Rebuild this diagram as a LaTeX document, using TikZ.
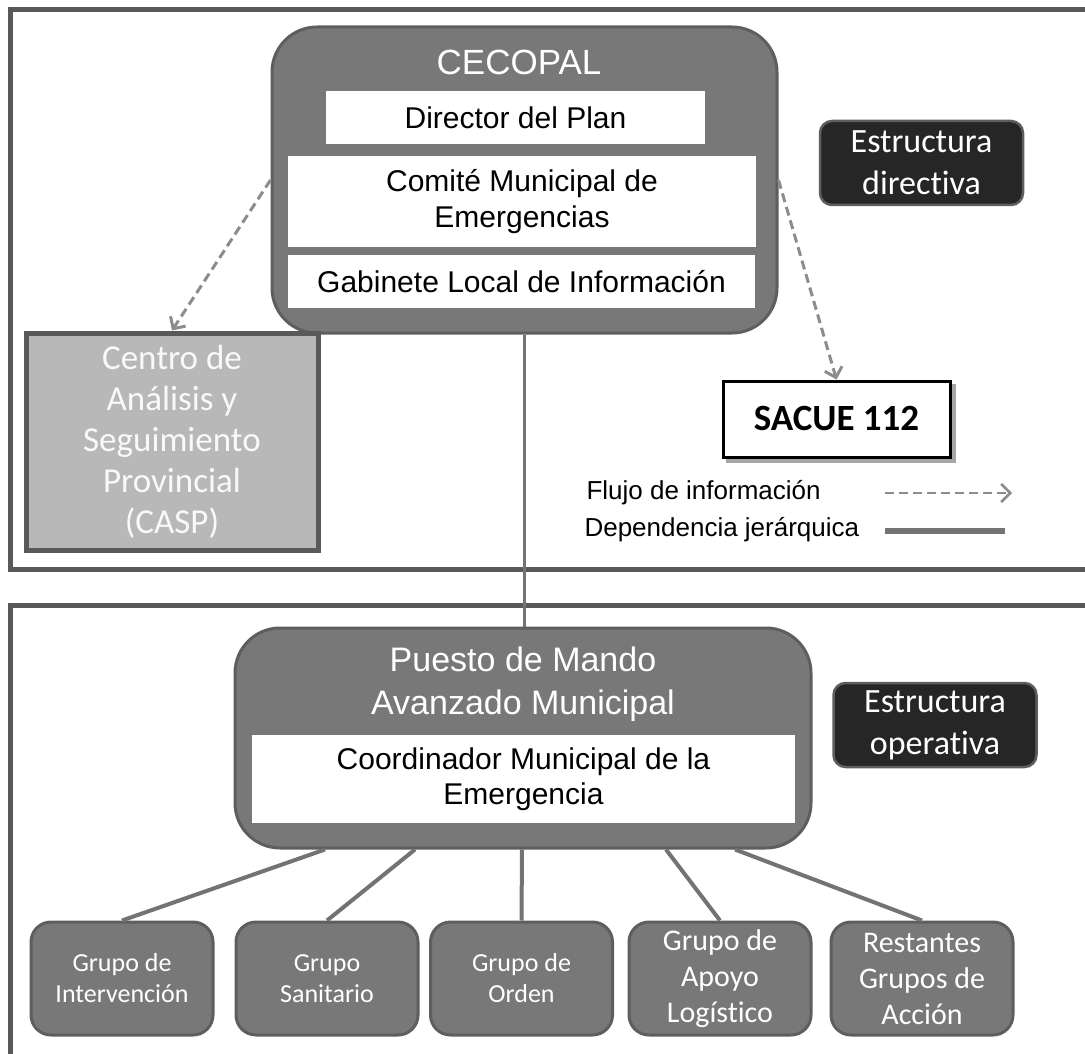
\documentclass[tikz,border=0pt]{standalone}
\usepackage{fontspec}
\setmainfont{Liberation Sans}
\newfontfamily\calib[Ligatures=NoCommon]{Carlito}
\usetikzlibrary{calc,positioning,arrows.meta,shadows}

\definecolor{framegray}{HTML}{595959}
\definecolor{boxgray}{HTML}{787878}
\definecolor{edgegray}{HTML}{5E5E5E}
\definecolor{caspgray}{HTML}{B8B8B8}
\definecolor{darkbox}{HTML}{262626}
\definecolor{linkgray}{HTML}{737373}
\definecolor{flowgray}{HTML}{8C8C8C}

\begin{document}
\begin{tikzpicture}[x=1pt, y=-1pt
        , frame/.style={ draw=framegray, line width=5pt }
        , bigbox/.style={ draw=edgegray, fill=boxgray, line width=3pt, rounded corners=45pt, inner sep=0pt }
        , whitebox/.style={ fill=white, inner sep=0pt, align=center, font=\fontsize{30}{36}\selectfont }
        , tag/.style={ draw=edgegray, fill=darkbox, line width=2.5pt, rounded corners=12pt, text=white, align=center, inner sep=0pt
                     , font=\calib\fontsize{34}{42}\selectfont, minimum width=203pt, minimum height=84pt }
        , group/.style={ draw=edgegray, fill=boxgray, line width=3pt, rounded corners=20pt, text=white, align=center
                       , minimum width=182pt, minimum height=113pt, inner sep=0pt }
        , link/.style={ draw=linkgray, line width=4pt }
        , flow/.style={ draw=flowgray, line width=3pt, dash pattern=on 9pt off 5pt, -{Straight Barb[length=9pt,width=18pt]} }
        ]

        \useasboundingbox (0,0) rectangle (1085,1054);
        \clip (0,0) rectangle (1085,1054);

        % Both structures, open on the right and below.
        \draw[frame] (10,10) rectangle (1100,569);
        \draw[frame] (10,605) rectangle (1100,1080);

        % Directive structure.
        \node[bigbox, minimum width=505pt, minimum height=306pt] (cecopal) at (524.5,180) {};
        \node[text=white, font=\fontsize{35}{40}\selectfont] (cecopaltitle) at (519,62) {CECOPAL};
        \node[whitebox, minimum width=379pt, minimum height=53pt] (director) at (515.5,117.5) {Director del Plan};
        \node[whitebox, minimum width=468pt, minimum height=91pt] (comite) at (522,201.5) {Comit\'e Municipal de\\Emergencias};
        \node[whitebox, minimum width=467pt, minimum height=53pt] (gabinete) at (521.5,281.5) {Gabinete Local de Informaci\'on};

        \node[draw=framegray, fill=caspgray, line width=5pt, minimum width=292pt, minimum height=217pt, inner sep=0pt
            , text=white!95!gray, align=center, font=\calib\fontsize{35}{41}\selectfont] (casp) at (172,441.5)
            {Centro de\\An\'alisis y\\Seguimiento\\Provincial\\(CASP)};

        \node[tag] (directiva) at (921.5,163) {Estructura\\directiva};

        \node[draw=black, fill=white, line width=3pt, minimum width=227pt, minimum height=76pt
            , font=\calib\bfseries\fontsize{37}{44}\selectfont
            , copy shadow={shadow xshift=4pt, shadow yshift=-4pt, draw=gray!70, fill=gray!70}] (sacue) at (836.5,419) {SACUE 112};

        \draw[flow] (cecopal.west) -- (casp.north);
        \draw[flow] (cecopal.east) -- (sacue.north);

        % Legend.
        \node[anchor=west, font=\fontsize{26}{30}\selectfont] (flujo) at (583,493) {Flujo de informaci\'on};
        \node[anchor=west, font=\fontsize{26}{30}\selectfont] (dependencia) at (581,530) {Dependencia jer\'arquica};
        \coordinate (flujoA) at (885,493);
        \coordinate (flujoB) at (1012,493);
        \coordinate (depA) at (885,531);
        \coordinate (depB) at (1005,531);
        \draw[flow, line width=2.5pt] (flujoA) -- (flujoB);
        \draw[link, line width=6pt] (depA) -- (depB);

        % Operative structure.
        \node[bigbox, minimum width=576pt, minimum height=220pt] (pma) at (523,738) {};
        \node[text=white, align=center, font=\fontsize{34}{43}\selectfont] (pmatitle) at (523,684) {Puesto de Mando\\Avanzado Municipal};
        \node[whitebox, minimum width=543pt, minimum height=88pt, font=\fontsize{30}{35}\selectfont] (coord) at (523.5,779)
            {Coordinador Municipal de la\\Emergencia};

        \node[tag] (operativa) at (935,725) {Estructura\\operativa};

        \draw[link, line width=3pt] (cecopal.south) -- (cecopal.south |- pma.north);

        \foreach \i/\gx/\gsize/\gskip/\gtext in {
                1/122/26/31/{Grupo de\\Intervenci\'on},
                2/327/26/31/{Grupo\\Sanitario},
                3/521.5/26/31/{Grupo de\\Orden},
                4/720/30/36/{Grupo de\\Apoyo\\Log\'istico},
                5/922/30/36/{Restantes\\Grupos de\\Acci\'on}}
            \node[group, font=\calib\fontsize{\gsize}{\gskip}\selectfont] (g\i) at (\gx,978.5) {\gtext};

        % Each group hangs from the PMA.
        \foreach \i/\dx in {1/-198,2/-108,3/-1,4/143,5/212}
            \draw[link] ($(pma.south)+(\dx,0)$) -- (g\i.north);

    \end{tikzpicture}
\end{document}
